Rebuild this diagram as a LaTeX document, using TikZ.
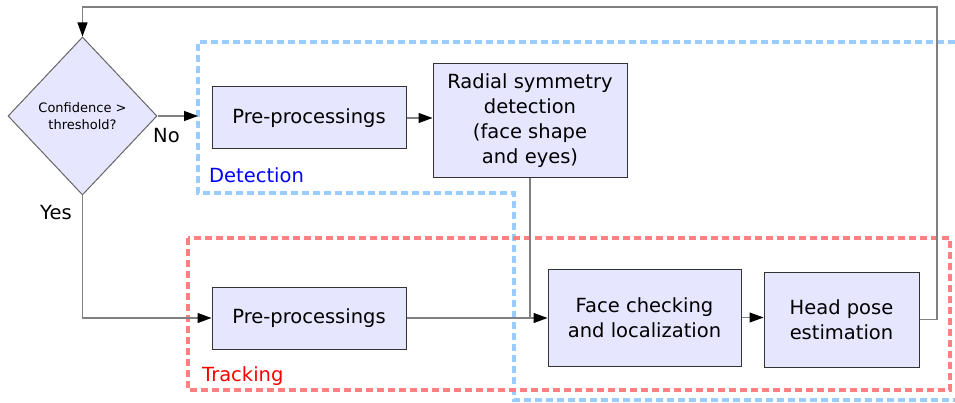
\documentclass[tikz,border=0pt]{standalone}
\usepackage{fontspec}
\setmainfont{DejaVu Sans}
\usetikzlibrary{shapes.geometric,arrows.meta}
\definecolor{boxfill}{RGB}{230,230,255}
\definecolor{detblue}{RGB}{153,204,255}
\definecolor{trkred}{RGB}{255,128,128}
\tikzset{
  blk/.style={draw=black!80, fill=boxfill, line width=1pt, inner sep=0pt, align=center, font=\fontsize{19.5}{25}\selectfont},
  decision/.style={diamond, draw=black!60, fill=boxfill, line width=1pt, inner sep=0pt, align=center, font=\fontsize{13}{17}\selectfont},
  conn/.style={draw=black!50, line width=1.2pt},
  arr/.style={conn, -{Triangle[length=14pt,width=10pt,color=black]}},
  lbl/.style={inner sep=0pt, anchor=base west, font=\fontsize{19.5}{24}\selectfont},
  zone/.style={line width=3.5pt, dash pattern=on 7pt off 4pt},
}
\begin{document}
\begin{tikzpicture}[x=1pt,y=-1pt]
\useasboundingbox (0,0) rectangle (955,403);
% zones
\draw[zone, detblue] (955,42) -- (198,42) -- (198,193) -- (514,193) -- (514,400) -- (955,400);
\draw[zone, trkred] (188,238) rectangle (950,390);
% blocks
\node[decision, minimum width=149pt, minimum height=158pt] (conf) at (82.5,116) {Confidence >\\threshold?};
\node[blk, minimum width=194pt, minimum height=62pt] (pre1) at (309,118) {Pre-processings};
\node[blk, minimum width=194pt, minimum height=114pt] (radial) at (530,121) {Radial symmetry\\detection\\(face shape\\and eyes)};
\node[blk, minimum width=194pt, minimum height=62pt] (pre2) at (309,318) {Pre-processings};
\node[blk, minimum width=193pt, minimum height=97pt] (face) at (644.5,317.5) {Face checking\\and localization};
\node[blk, minimum width=155pt, minimum height=95pt] (head) at (841.5,319.5) {Head pose\\estimation};
\coordinate (detin) at (198,116);
\coordinate (loop) at (937,7);
% connectors
\draw[arr] (conf.east) -- (detin);
\draw[arr] (pre1.east) -- (pre1.east -| radial.west);
\draw[arr] (conf.south) |- (pre2.west);
\draw[arr] (pre2.east) -- (pre2.east -| face.west);
\draw[conn] (radial.south) -- (radial.south |- face.west);
\draw[arr] (face.east) -- (face.east -| head.west);
\draw[arr] (head.east) -| (loop) -| (conf.north);
% labels
\node[lbl] (no) at (153,143) {No};
\node[lbl] (yes) at (40,220) {Yes};
\node[lbl, text=blue] (det) at (209,183) {Detection};
\node[lbl, text=red] (trk) at (202,381) {Tracking};
\end{tikzpicture}
\end{document}
